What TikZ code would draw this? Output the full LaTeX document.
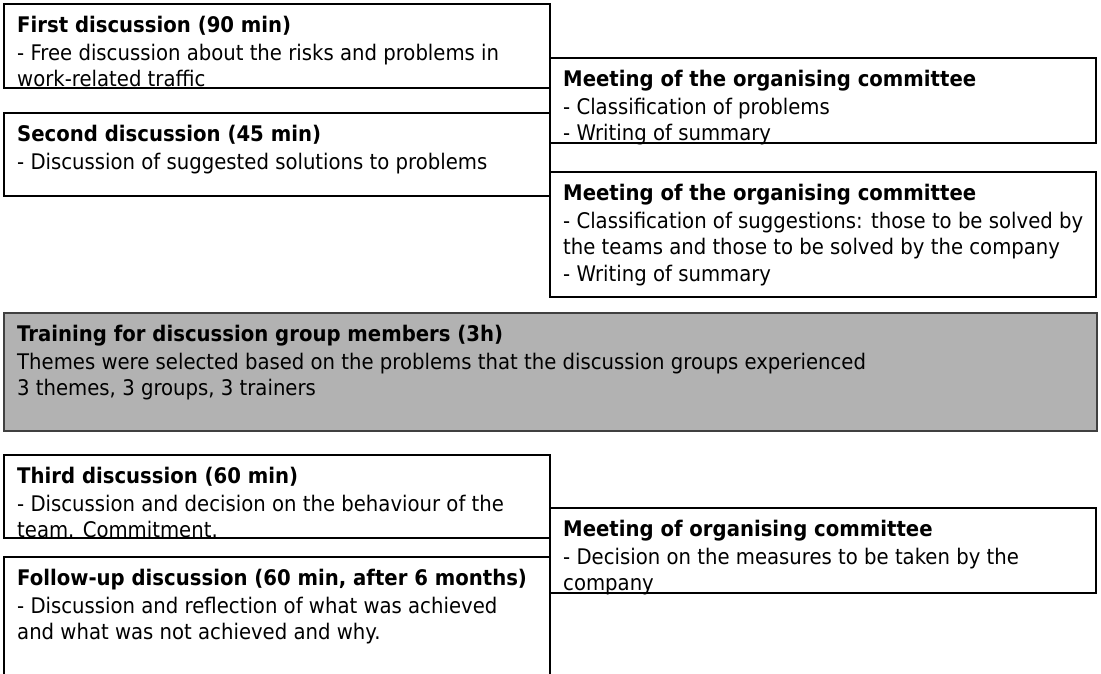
\documentclass[tikz,border=0pt]{standalone}
\usepackage{fontspec}
\setmainfont{DejaVu Sans}[FakeStretch=0.915]
\usepackage{tikz}

\tikzset{
  stagebox/.style={draw, line width=1.4pt, anchor=north west, inner sep=0pt, outer sep=0pt},
  stagetext/.style={anchor=north west, align=left, inner sep=0pt,
    font=\fontsize{21.5}{26.5}\selectfont},
}
\newcommand{\stagehead}[1]{\textbf{#1}\\[1pt]}

\begin{document}
\begin{tikzpicture}[x=1pt, y=-1pt]
\useasboundingbox (0,0) rectangle (1101,674);
\node[stagebox, minimum width=546pt, minimum height=84pt] (first) at (4,4) {};
\node[stagebox, minimum width=546pt, minimum height=83pt] (second) at (4,113) {};
\node[stagebox, minimum width=546pt, minimum height=85pt] (meetprob) at (550,58) {};
\node[stagebox, minimum width=546pt, minimum height=125pt] (meetsugg) at (550,172) {};
\node[stagebox, draw=black!75, fill=black!30, minimum width=1093pt, minimum height=118pt] (training) at (4,313) {};
\node[stagebox, minimum width=546pt, minimum height=83pt] (third) at (4,455) {};
\node[stagebox, minimum width=546pt, minimum height=130pt] (followup) at (4,557) {};
\node[stagebox, minimum width=546pt, minimum height=85pt] (meetmeas) at (550,508) {};

\node[stagetext] (firsttxt) at ([xshift=13pt, yshift=-12pt]first.north west)
  {\stagehead{First discussion (90 min)}- Free discussion about the risks and problems in\\work-related traffic};
\node[stagetext] (secondtxt) at ([xshift=13pt, yshift=-12pt]second.north west)
  {\stagehead{Second discussion (45 min)}- Discussion of suggested solutions to problems};
\node[stagetext] (meetprobtxt) at ([xshift=13pt, yshift=-12pt]meetprob.north west)
  {\stagehead{Meeting of the organising committee}- Classification of problems\\- Writing of summary};
\node[stagetext] (meetsuggtxt) at ([xshift=13pt, yshift=-12pt]meetsugg.north west)
  {\stagehead{Meeting of the organising committee}- Classification of suggestions: those to be solved by\\the teams and those to be solved by the company\\- Writing of summary};
\node[stagetext] (trainingtxt) at ([xshift=13pt, yshift=-12pt]training.north west)
  {\stagehead{Training for discussion group members (3h)}Themes were selected based on the problems that the discussion groups experienced\\3 themes, 3 groups, 3 trainers};
\node[stagetext] (thirdtxt) at ([xshift=13pt, yshift=-12pt]third.north west)
  {\stagehead{Third discussion (60 min)}- Discussion and decision on the behaviour of the\\team. Commitment.};
\node[stagetext] (followuptxt) at ([xshift=13pt, yshift=-12pt]followup.north west)
  {\stagehead{Follow-up discussion (60 min, after 6 months)}- Discussion and reflection of what was achieved\\and what was not achieved and why.};
\node[stagetext] (meetmeastxt) at ([xshift=13pt, yshift=-12pt]meetmeas.north west)
  {\stagehead{Meeting of organising committee}- Decision on the measures to be taken by the\\company};
\end{tikzpicture}
\end{document}
